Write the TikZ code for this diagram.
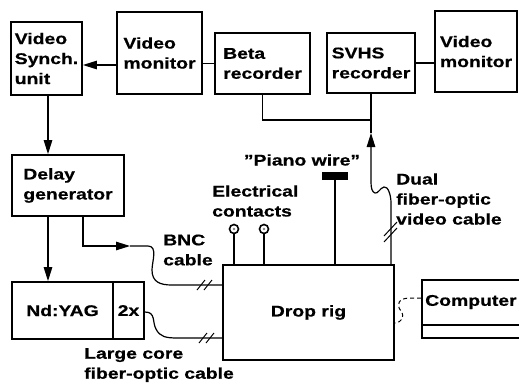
\documentclass[tikz,border=0pt]{standalone}
\usepackage{fontspec}
\setmainfont{Liberation Sans}[FakeStretch=1.25,FakeBold=0.6]
\usetikzlibrary{arrows.meta}
\begin{document}
\begin{tikzpicture}[x=1pt,y=-1pt,
  box/.style={draw, line width=1.8pt, inner sep=0pt, align=left,
    font=\bfseries\fontsize{15.5}{20}\selectfont},
  lab/.style={inner sep=0pt, align=left, font=\bfseries\fontsize{15.5}{20}\selectfont},
  wire/.style={line width=1.2pt},
  arr/.style={wire, -{Triangle[length=14pt,width=8.5pt]}},
  contact/.style={circle, draw, line width=1.6pt, fill=white, minimum size=9pt, inner sep=0pt,
    path picture={\fill[gray] (path picture bounding box.center) circle (1.3pt);}},
  slash/.style={line width=1pt}]
\useasboundingbox (0,0) rectangle (519,386);
% boxes
\node[box, minimum width=71, minimum height=73] (vs) at (46.5,58.5) {Video\\Synch.\\unit};
\node[box, minimum width=85, minimum height=82] (vm1) at (159.5,53) {Video\\monitor};
\node[box, minimum width=95, minimum height=61] (beta) at (262.5,63.5) {Beta\\recorder};
\node[box, minimum width=88, minimum height=60] (svhs) at (371,63) {SVHS\\recorder};
\node[box, minimum width=82, minimum height=81] (vm2) at (476,51.5) {Video\\monitor};
\node[box, minimum width=112, minimum height=61] (delay) at (68,185.5) {Delay\\generator};
\node[box, minimum width=101, minimum height=57] (yag) at (62.5,310.5) {Nd:YAG};
\node[box, minimum width=31, minimum height=57] (two) at (128.5,310.5) {2x};
\node[box, minimum width=171, minimum height=95] (drop) at (308.5,312.5) {Drop rig};
\node[box, minimum width=110, minimum height=58] (comp) at (477,309) {};
\node[lab, anchor=west] (comptext) at (425,302) {Computer};
\draw[line width=1.2pt] (comp.west |- 0,325) -- (comp.east |- 0,325);
% top connections
\draw[arr] (vm1.west |- 0,65) -- (vs.east |- 0,65);
\draw[wire] (vm1.east |- beta.west) -- (beta.west);
\draw[wire] (svhs.east) -- (vm2.west |- svhs.east);
\coordinate (jn) at (svhs.south |- 0,120);
\draw[wire] (beta.south) |- (jn) -- (svhs.south);
% left chain
\draw[arr] (vs.south -| 48,0) -- (delay.north -| 48,0);
\draw[arr] (delay.south -| 48,0) -- (yag.north -| 48,0);
% BNC cable
\coordinate (bncA) at (130,246);
\draw[arr] (delay.south -| 83,0) |- (bncA);
\draw[wire] (bncA) -- (148,246) .. controls (158,246) and (152,262) .. (152,270)
  .. controls (152,282) and (160,285) .. (172,285) -- (drop.west |- 0,285);
\draw[slash] (197,290) -- (205,280) (204,290) -- (212,280);
% large core fibre
\draw[wire] (two.east |- 0,312) .. controls (156,312) and (152,322) .. (156,329)
  .. controls (160,337) and (166,338) .. (178,338) -- (drop.west |- 0,338);
\draw[slash] (199,343) -- (207,333) (206,343) -- (214,333);
% dual fibre-optic video cable
\coordinate (tipS) at (371,133);
\draw[arr] (drop.north -| 391,0) -- (391,203) .. controls (391,195) and (388,186) .. (384,187)
  .. controls (380,188) and (378,194) .. (375,193) .. controls (372,192) and (371,188) .. (371,182) -- (tipS);
\draw[wire] (tipS) -- (jn);
\draw[slash] (384,236) -- (397,222) (384,242) -- (397,228);
% contacts
\node[contact] (c1) at (234,229) {};
\node[contact] (c2) at (264,229) {};
\draw[wire] (c1.south) -- (c1.south |- drop.north);
\draw[wire] (c2.south) -- (c2.south |- drop.north);
% piano wire
\node[fill=black, minimum width=26, minimum height=8, inner sep=0pt] (pw) at (335,176) {};
\draw[line width=2.2pt] (pw.south) -- (pw.south |- drop.north);
% computer link
\draw[line width=1pt, dash pattern=on 4pt off 3pt] (comp.west |- 0,298) -- (410,298)
  .. controls (398,298) and (396,305) .. (401,311) .. controls (405,317) and (402,322) .. (drop.east |- 0,323);
% labels
\node[lab, anchor=west] (lelec) at (212,201) {Electrical\\contacts};
\node[lab] (lpiano) at (302,160) {"Piano wire"};
\node[lab, anchor=west] (ldual) at (396,199) {Dual\\fiber-optic\\video cable};
\node[lab, anchor=west] (lbnc) at (163,250) {BNC\\cable};
\node[lab, anchor=west] (llarge) at (84,365) {Large core\\fiber-optic cable};
\end{tikzpicture}
\end{document}
